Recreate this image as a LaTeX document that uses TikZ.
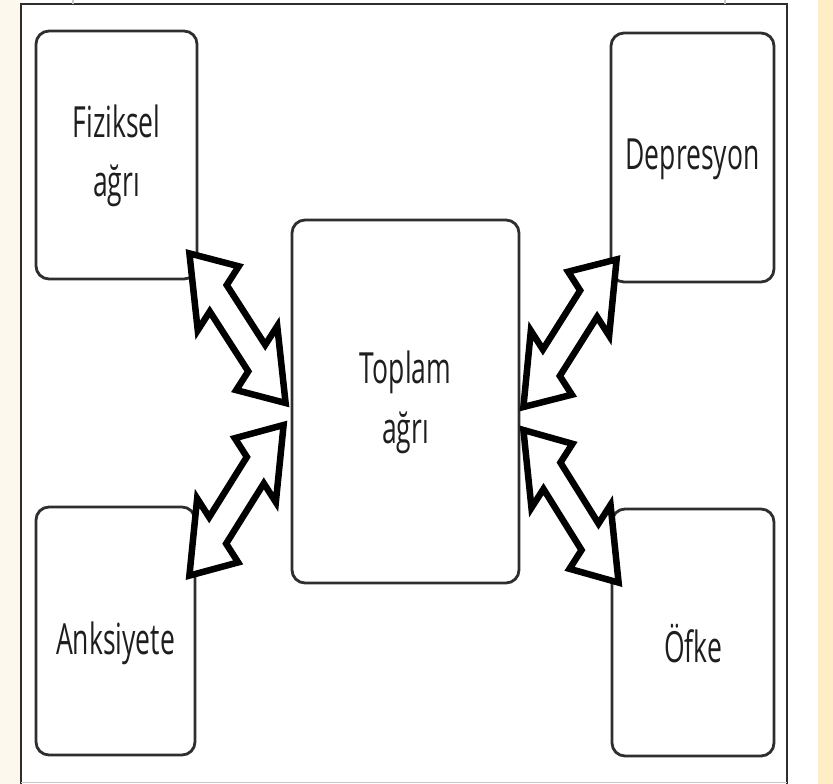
\documentclass[tikz,border=0pt]{standalone}
\usepackage{fontspec}
\usepackage{graphicx}
\usetikzlibrary{calc}
\newfontfamily\labfont{Open Sans}
\definecolor{creamL}{HTML}{FDF8EE}
\definecolor{creamR}{HTML}{FFEDC6}
\definecolor{edgegray}{HTML}{2E2E2E}
\definecolor{txtgray}{HTML}{1E1E1E}
\definecolor{lightedge}{HTML}{C8C8C8}
\newcommand\vtext[2][0pt]{\raisebox{0pt}[\dimexpr\height+#1\relax][\depth]{\scalebox{1}[1.62]{\begin{tabular}{@{}c@{}}#2\end{tabular}}}}
\newcommand\dblarr[3]{%
  \draw[bigarrow] (#1)
    -- ($(#1)!0.3!(#2)+29*(#3)$)
    -- ($(#1)!0.3!(#2)+12*(#3)$)
    -- ($(#1)!0.7!(#2)+12*(#3)$)
    -- ($(#1)!0.7!(#2)+29*(#3)$)
    -- (#2)
    -- ($(#1)!0.7!(#2)-29*(#3)$)
    -- ($(#1)!0.7!(#2)-12*(#3)$)
    -- ($(#1)!0.3!(#2)-12*(#3)$)
    -- ($(#1)!0.3!(#2)-29*(#3)$)
    -- cycle;}
\tikzset{
  box/.style={draw=edgegray, line width=2.8pt, rounded corners=13pt, fill=white,
    text=txtgray, font=\labfont\fontsize{26.5}{37}\selectfont, inner sep=0pt},
  bigarrow/.style={draw=black, fill=white, line width=6.5pt, line join=miter},
  frameline/.style={draw=edgegray, line width=2.2pt},
  thinedge/.style={draw=lightedge, line width=1.2pt}
}
\begin{document}
\begin{tikzpicture}[x=1pt,y=-1pt]
\useasboundingbox (0,0) rectangle (833,784);
\fill[creamL] (0,0) rectangle (21,784);
\fill[white] (21,0) rectangle (818,784);
\fill[creamR] (818,0) rectangle (833,784);
% frame
\draw[frameline] (21,784) -- (21,4) -- (787,4) -- (787,784);
\draw[thinedge] (21,782.5) -- (787,782.5);
\draw[thinedge] (73,0) -- (73,4);
\draw[thinedge] (725,0) -- (725,4);
% boxes
\node[box, minimum width=161pt, minimum height=248pt] (fiz) at (116.5,155) {\vtext{Fiziksel\\ağrı}};
\node[box, minimum width=163pt, minimum height=249pt] (dep) at (692.5,157.5) {\vtext{Depresyon}};
\node[box, minimum width=227pt, minimum height=363pt] (top) at (405.5,401.5) {\vtext{Toplam\\ağrı}};
\node[box, minimum width=159pt, minimum height=248pt] (ank) at (115.5,631) {\vtext[24pt]{Anksiyete}};
\node[box, minimum width=162pt, minimum height=247pt] (ofk) at (693,632.5) {\vtext[36pt]{Öfke}};
% arrow end points
\coordinate (a1f) at ($(fiz.south east)+(-9,-27)$);
\coordinate (a1t) at ($(top.west)+(-5,1.5)$);
\coordinate (a2d) at ($(dep.south west)+(7,-24)$);
\coordinate (a2t) at ($(top.east)+(3,5.5)$);
\coordinate (a3t) at ($(top.west)+(-7,23.5)$);
\coordinate (a3a) at ($(ank.north east)+(-7,70)$);
\coordinate (a4t) at ($(top.east)+(3,28.5)$);
\coordinate (a4o) at ($(ofk.north west)+(8,75)$);
% double arrows
\dblarr{a1f}{a1t}{0.707,-1.103}
\dblarr{a2t}{a2d}{0.707,1.103}
\dblarr{a3a}{a3t}{0.707,1.103}
\dblarr{a4t}{a4o}{0.707,-1.103}
\end{tikzpicture}
\end{document}
